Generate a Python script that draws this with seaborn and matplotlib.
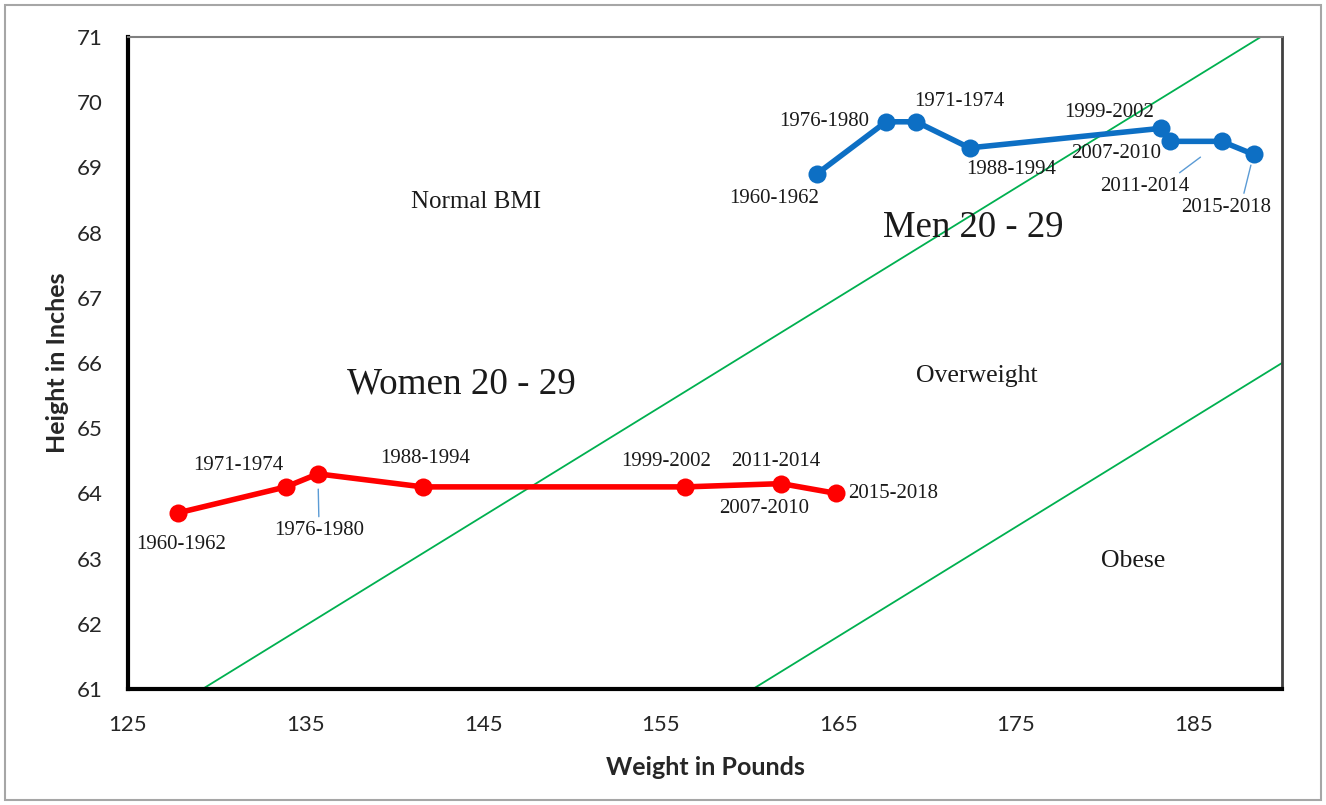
"""Height vs weight of adults aged 20-29 with BMI bands"""

import matplotlib
matplotlib.use("Agg")
import matplotlib.pyplot as plt
from matplotlib.patches import Rectangle
import seaborn as sns  # type: ignore

# Data
women_labels = ["1960-1962", "1971-1974", "1976-1980", "1988-1994",
                "1999-2002", "2007-2010", "2011-2014", "2015-2018"]
women_weight = [127.8, 133.9, 135.7, 141.6, 156.4, 161.8, 161.8, 164.9]
women_height = [63.7, 64.1, 64.3, 64.1, 64.1, 64.1, 64.2, 64.0]

men_labels = ["1960-1962", "1976-1980", "1971-1974", "1988-1994",
              "1999-2002", "2007-2010", "2011-2014", "2015-2018"]
men_weight = [163.8, 167.7, 169.4, 172.4, 183.2, 183.7, 186.6, 188.4]
men_height = [68.9, 69.7, 69.7, 69.3, 69.6, 69.4, 69.4, 69.2]

# BMI boundary lines (two straight segments)
normal_line_w = [129.2, 188.8]
normal_line_h = [61.0, 71.0]
obese_line_w = [160.2, 190.0]
obese_line_h = [61.0, 66.0]

x_ticks = [125, 135, 145, 155, 165, 175, 185]
y_ticks = list(range(61, 72))

sns.set_style("white")
plt.rcParams["font.family"] = ["Liberation Serif", "DejaVu Serif"]

fig = plt.figure(figsize=(13.26, 8.05), dpi=100)
ax = fig.add_axes([0.0965, 0.1441, 0.8703, 0.8099])

ax.plot(normal_line_w, normal_line_h, color="#00b050", lw=1.3, zorder=1)
ax.plot(obese_line_w, obese_line_h, color="#00b050", lw=1.3, zorder=1)

sns.lineplot(x=women_weight, y=women_height, sort=False, ax=ax, color="#ff0000",
             lw=4, marker="o", markersize=13, markeredgewidth=0, zorder=3)
sns.lineplot(x=men_weight, y=men_height, sort=False, ax=ax, color="#0d6fc4",
             lw=4, marker="o", markersize=13, markeredgewidth=0, zorder=3)

# label offsets in pixels (dx, dy), optional leader (relpos, shrinkB)
women_off = {
    "1960-1962": (3, -32), "1971-1974": (-48, 21), "1976-1980": (1, -57),
    "1988-1994": (2, 28), "1999-2002": (-19, 25), "2007-2010": (-17, -22),
    "2011-2014": (-6, 19), "2015-2018": (57, 0),
}
men_off = {
    "1960-1962": (-43, -25), "1976-1980": (-62, 0), "1971-1974": (43, 20),
    "1988-1994": (42, -22), "1999-2002": (-52, 16), "2007-2010": (-54, -12),
    "2011-2014": (-77, -45), "2015-2018": (-27, -53),
}
women_lead = {"1976-1980": ((0.5, 1.0), 11)}
men_lead = {"2011-2014": ((0.83, 1.0), 19), "2015-2018": ((0.68, 1.0), 8)}

for labels, ws, hs, offs, leads in [
    (women_labels, women_weight, women_height, women_off, women_lead),
    (men_labels, men_weight, men_height, men_off, men_lead),
]:
    for lab, w, h in zip(labels, ws, hs):
        kw = {}
        if lab in leads:
            rp, sb = leads[lab]
            kw["arrowprops"] = dict(arrowstyle="-", color="#5b9bd5", lw=1.0,
                                    relpos=rp, shrinkA=1, shrinkB=sb)
        ax.annotate(lab, (w, h), xytext=offs[lab], textcoords="offset pixels",
                    ha="center", va="center", fontsize=15, color="#1a1a1a",
                    zorder=4, **kw)

ax.text(144.6, 68.47, "Normal BMI", fontsize=18, ha="center", va="center", color="#1a1a1a")
ax.text(172.8, 65.8, "Overweight", fontsize=18.5, ha="center", va="center", color="#1a1a1a")
ax.text(181.6, 62.96, "Obese", fontsize=18.5, ha="center", va="center", color="#1a1a1a")
ax.text(143.8, 65.68, "Women 20 - 29", fontsize=26.7, ha="center", va="center", color="#1a1a1a")
ax.text(172.6, 68.07, "Men 20 - 29", fontsize=26.5, ha="center", va="center", color="#1a1a1a")

ax.set_xlim(125, 190)
ax.set_ylim(61, 71)
ax.set_xticks(x_ticks)
ax.set_yticks(y_ticks)
ax.set_xticklabels([str(t) for t in x_ticks], family="Lato", fontsize=16, color="#262626")
ax.set_yticklabels([str(t) for t in y_ticks], family="Lato", fontsize=16, color="#262626")
ax.tick_params(axis="both", direction="in", length=8, width=1.5, color="black")
ax.tick_params(axis="x", pad=19)
ax.tick_params(axis="y", pad=18)

ax.set_xlabel("Weight in Pounds", family="Lato", fontweight="bold", fontsize=18,
              labelpad=15, color="#262626")
ax.set_ylabel("Height in Inches", family="Lato", fontweight="bold", fontsize=18,
              labelpad=6, color="#262626")

for side in ["left", "bottom"]:
    ax.spines[side].set_color("black")
    ax.spines[side].set_linewidth(3)
ax.spines["right"].set_color("#404040")
ax.spines["right"].set_linewidth(2)
ax.spines["top"].set_color("#808080")
ax.spines["top"].set_linewidth(1.5)

fig.patches.append(Rectangle((0.004, 0.006), 0.992, 0.988, transform=fig.transFigure,
                             fill=False, edgecolor="#a6a6a6", lw=1.5))

fig.savefig("out.png", dpi=100)
